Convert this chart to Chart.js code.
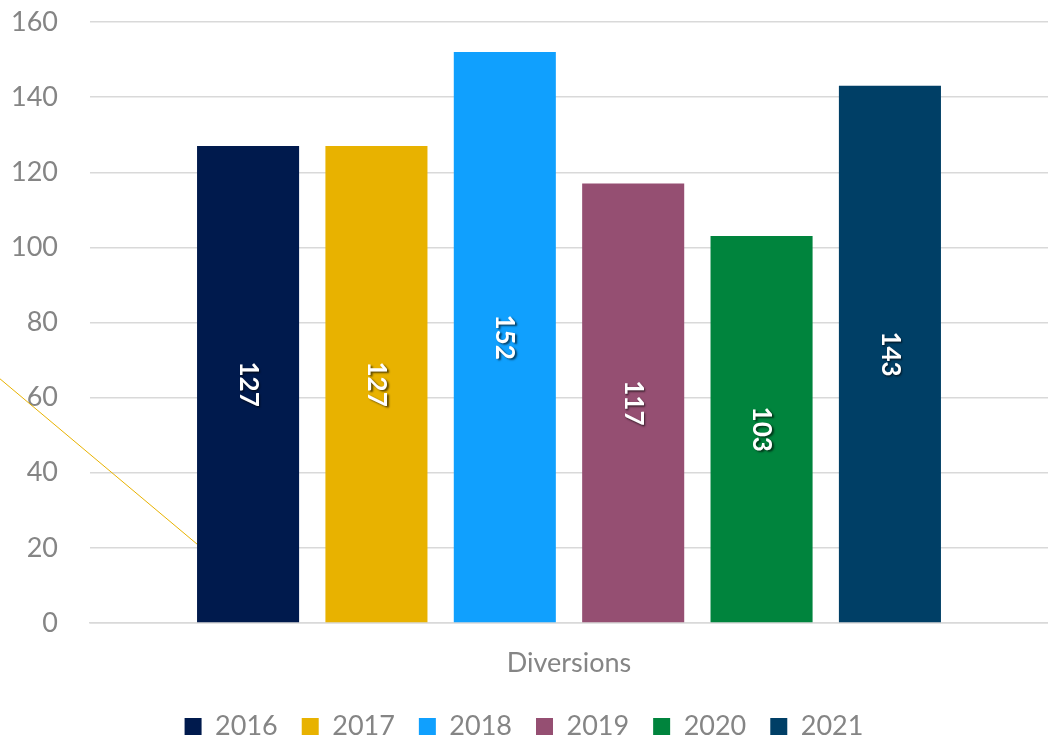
<!DOCTYPE html>
<html>
<head>
<meta charset="utf-8">
<script src="https://cdn.jsdelivr.net/npm/chart.js@4/dist/chart.umd.min.js"></script>
<style>
  html, body { margin: 0; padding: 0; background: #fff; }
  #wrap { width: 1048px; height: 742px; }
</style>
</head>
<body>
<div id="wrap"><canvas id="divChart" width="1048" height="742"></canvas></div>
<script>
var categories = ['Diversions'];
var years = ['2016', '2017', '2018', '2019', '2020', '2021'];
var values = [127, 127, 152, 117, 103, 143];
var colors = ['#001a4d', '#e8b200', '#10a0fe', '#954f72', '#00843d', '#003f66'];
var yTicks = [0, 20, 40, 60, 80, 100, 120, 140, 160];

var fontFamily = 'Lato, "Open Sans", sans-serif';
var grey = '#858585';

// stray yellow connector line seen at the left of the original
var strayLine = {
  id: 'strayLine',
  beforeDatasetsDraw: function(chart) {
    var y = chart.scales.y;
    var first = chart.getDatasetMeta(0).data[0];
    var ctx = chart.ctx;
    ctx.save();
    ctx.strokeStyle = '#e8b200';
    ctx.lineWidth = 1;
    ctx.beginPath();
    ctx.moveTo(0, y.getPixelForValue(65));
    ctx.lineTo(first.x - first.width / 2, y.getPixelForValue(21));
    ctx.stroke();
    ctx.restore();
  }
};

var barLabels = {
  id: 'barLabels',
  afterDatasetsDraw: function(chart) {
    var ctx = chart.ctx;
    chart.data.datasets.forEach(function(ds, i) {
      var bar = chart.getDatasetMeta(i).data[0];
      ctx.save();
      ctx.translate(bar.x, (bar.y + bar.base) / 2);
      ctx.rotate(Math.PI / 2);
      ctx.font = 'bold 26px ' + fontFamily;
      ctx.fillStyle = '#ffffff';
      ctx.textAlign = 'center';
      ctx.textBaseline = 'middle';
      ctx.shadowColor = 'rgba(0,0,0,0.6)';
      ctx.shadowOffsetX = 1.5;
      ctx.shadowOffsetY = 1.5;
      ctx.shadowBlur = 2;
      ctx.fillText(String(ds.data[0]), 0, 0);
      ctx.restore();
    });
  }
};

var datasets = years.map(function(yr, i) {
  return {
    label: yr,
    data: [values[i]],
    backgroundColor: colors[i],
    borderWidth: 0,
    categoryPercentage: 0.804,
    barPercentage: 0.795
  };
});

var ctx = document.getElementById('divChart').getContext('2d');
var chart = new Chart(ctx, {
  type: 'bar',
  data: { labels: categories, datasets: datasets },
  options: {
    responsive: false,
    animation: false,
    layout: { padding: { top: 22, right: 0, bottom: -8, left: 0 } },
    plugins: {
      tooltip: { enabled: false },
      legend: {
        position: 'bottom',
        labels: {
          boxWidth: 17,
          boxHeight: 17,
          padding: 24,
          color: grey,
          font: { family: fontFamily, size: 27 }
        }
      }
    },
    scales: {
      x: {
        afterFit: function(scale) { scale.height = 66; },
        grid: { display: false, drawTicks: false },
        border: { display: true, color: '#d9d9d9', width: 1.5 },
        ticks: { color: grey, padding: 24, font: { family: fontFamily, size: 27, lineHeight: 1.185 } }
      },
      y: {
        min: 0,
        max: 160,
        afterFit: function(scale) {
          scale.width = 90;
          scale.paddingTop = 0;
          scale.paddingBottom = 0;
        },
        afterBuildTicks: function(scale) {
          scale.ticks = yTicks.map(function(v) { return { value: v }; });
        },
        grid: { color: '#d9d9d9', lineWidth: 1.5, drawTicks: false },
        border: { display: false },
        ticks: { color: grey, padding: 32, font: { family: fontFamily, size: 27 } }
      }
    }
  },
  plugins: [strayLine, barLabels]
});
</script>
</body>
</html>
